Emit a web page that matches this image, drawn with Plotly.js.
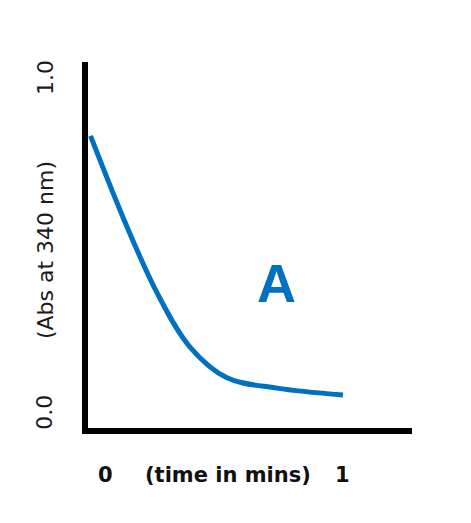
<!DOCTYPE html>
<html>
<head>
<meta charset="utf-8">
<script src="https://cdn.plot.ly/plotly-3.0.1.min.js"></script>
<style>
  html, body { margin: 0; padding: 0; background: #fff; }
  #chart { width: 471px; height: 523px; }
</style>
</head>
<body>
<div id="chart"></div>
<script>
// absorbance decay (time in mins, Abs at 340 nm)
var time_vals = [0.01, 0.145, 0.271, 0.400, 0.545, 0.741, 1.0];
var abs_vals  = [0.798, 0.563, 0.369, 0.221, 0.137, 0.109, 0.090];

var y_tick_text = ['0.0', '1.0'];
var x_tick_text = ['0', '1'];
var y_title = '(Abs at 340 nm)';
var x_title = '(time in mins)';
var curve_label = 'A';

var blue = 'rgb(0,112,192)';

var trace_curve = {
	x: time_vals,
	y: abs_vals,
	type: 'scatter',
	mode: 'lines',
	line: { color: blue, width: 5, shape: 'spline', smoothing: 1 },
	hoverinfo: 'none',
	showlegend: false
};

var ylab_font = { family: 'DejaVu Sans', size: 22, color: '#1a1a1a' };
var xlab_font = { family: 'DejaVu Sans', size: 21, color: '#111', weight: 'bold' };

var annotations = [
	// y labels (rotated)
	{ xref: 'paper', yref: 'paper', x: -0.133, y: 0.044, text: y_tick_text[0], textangle: -90, font: ylab_font },
	{ xref: 'paper', yref: 'paper', x: -0.133, y: 0.486, text: y_title, textangle: -90, font: ylab_font },
	{ xref: 'paper', yref: 'paper', x: -0.133, y: 0.959, text: y_tick_text[1], textangle: -90, font: ylab_font },
	// x labels
	{ xref: 'paper', yref: 'paper', x: 0.053, y: -0.128, text: '<b>' + x_tick_text[0] + '</b>', font: xlab_font },
	{ xref: 'paper', yref: 'paper', x: 0.432, y: -0.128, text: '<b>' + x_title + '</b>', font: xlab_font },
	{ xref: 'paper', yref: 'paper', x: 0.787, y: -0.128, text: '<b>' + x_tick_text[1] + '</b>', font: xlab_font },
	// curve label
	{ xref: 'x', yref: 'y', x: 0.741, y: 0.396, text: '<b>' + curve_label + '</b>',
	  font: { family: 'Liberation Sans', size: 54, color: blue } }
];
annotations.forEach(function(a) { a.showarrow = false; a.xanchor = 'center'; a.yanchor = 'middle'; });

var layout = {
	width: 471,
	height: 523,
	margin: { l: 88, r: 59, t: 62, b: 95 },
	paper_bgcolor: '#fff',
	plot_bgcolor: '#fff',
	xaxis: {
		range: [0, 1.2706],
		showline: true, linecolor: '#000', linewidth: 6,
		showgrid: false, zeroline: false, showticklabels: false, ticks: ''
	},
	yaxis: {
		range: [0, 1],
		showline: true, linecolor: '#000', linewidth: 6,
		showgrid: false, zeroline: false, showticklabels: false, ticks: ''
	},
	annotations: annotations
};

Plotly.newPlot('chart', [trace_curve], layout, { staticPlot: true });
</script>
</body>
</html>
